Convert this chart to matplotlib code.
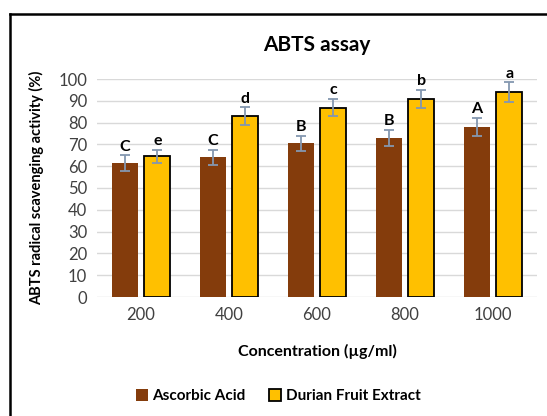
import matplotlib.pyplot as plt
from matplotlib.lines import Line2D
import numpy as np

concentrations = ["200", "400", "600", "800", "1000"]
ascorbic = [61.5, 64.0, 70.5, 73.0, 78.0]
ascorbic_err = [3.5, 3.5, 3.5, 3.8, 4.0]
durian = [64.5, 83.0, 86.8, 90.8, 94.0]
durian_err = [3.0, 4.0, 4.0, 4.3, 4.5]
ascorbic_letters = ["C", "C", "B", "B", "A"]
durian_letters = ["e", "d", "c", "b", "a"]

plt.rcParams['font.family'] = ['Lato', 'DejaVu Sans']

fig = plt.figure(figsize=(5.47, 4.16), dpi=100)
ax = fig.add_axes([97 / 547, 1 - 297 / 416, 440 / 547, 218 / 416])

x = np.arange(len(concentrations))
w = 0.3
off = 0.185
err_color = '#8497B0'

ax.bar(x - off, ascorbic, w, color='#843C0C', zorder=2, label='Ascorbic Acid')
ax.bar(x + off, durian, w, color='#FFC000', edgecolor='black', linewidth=1.3,
       zorder=2, label='Durian Fruit Extract')
ax.errorbar(x - off, ascorbic, yerr=ascorbic_err, fmt='none', ecolor=err_color,
            capsize=3.5, elinewidth=1.3, capthick=1.3, zorder=3)
ax.errorbar(x + off, durian, yerr=durian_err, fmt='none', ecolor=err_color,
            capsize=3.5, elinewidth=1.3, capthick=1.3, zorder=3)

for i in range(len(x)):
    ax.text(x[i] - off, ascorbic[i] + ascorbic_err[i] + 0.8, ascorbic_letters[i],
            ha='center', va='bottom', fontsize=11.5, fontweight='bold')
    ax.text(x[i] + off, durian[i] + durian_err[i] + 0.8, durian_letters[i],
            ha='center', va='bottom', fontsize=11.5, fontweight='bold')

ax.set_xlim(-0.5, len(x) - 0.5)
ax.set_ylim(0, 100)
ax.set_yticks(range(0, 101, 10))
ax.set_xticks(x)
ax.set_xticklabels(concentrations)
ax.tick_params(length=0, labelsize=12, colors='#404040', pad=7)
ax.grid(axis='y', color='#D9D9D9', linewidth=1, zorder=0)
ax.set_axisbelow(True)
for s in ax.spines.values():
    s.set_visible(False)

ax.set_title('ABTS assay', fontsize=15, fontweight='bold', pad=20)
ax.set_xlabel('Concentration (µg/ml)', fontsize=11.5, fontweight='bold', labelpad=15)
ax.set_ylabel('ABTS radical scavenging activity (%)', fontsize=10.5, fontweight='bold',
              labelpad=10)

fig.legend(loc='center', bbox_to_anchor=(278 / 547, 1 - 396 / 416), ncol=2,
           frameon=False, handlelength=0.8, handleheight=0.8,
           columnspacing=1.5, handletextpad=0.3, prop={'weight': 'bold', 'size': 11})

# outer frame (only left and top edges visible in the reference)
fig.add_artist(Line2D([10 / 547, 10 / 547], [0, 1 - 14 / 416], color='black', lw=1.8))
fig.add_artist(Line2D([10 / 547, 1], [1 - 14 / 416, 1 - 14 / 416], color='black', lw=1.8))

fig.savefig('out.png', dpi=100)
